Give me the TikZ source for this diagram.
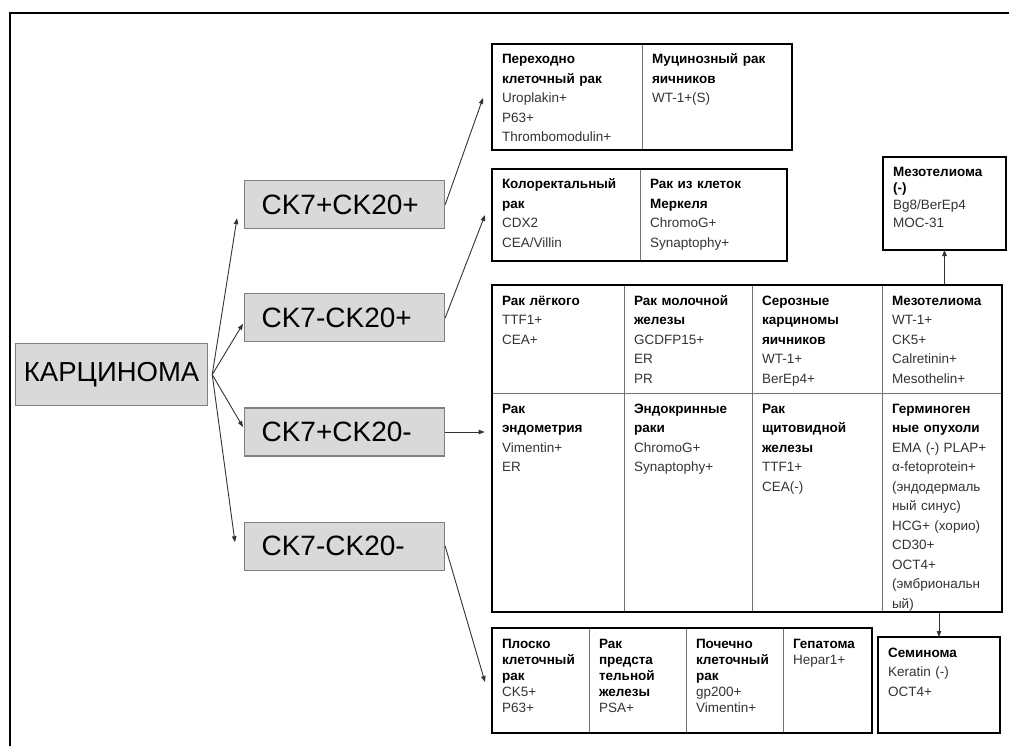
\documentclass[tikz,border=0pt]{standalone}
\usepackage{fontspec}
\setmainfont{Liberation Sans}
\usetikzlibrary{positioning,fit,arrows.meta,calc}

\newcommand{\hd}[1]{{\color{black}\bfseries #1}}

\begin{document}
\begin{tikzpicture}[
  x=1pt, y=-1pt,
  >={Triangle[length=6pt,width=4.5pt]},
  arr/.style={->, line width=0.9pt, black!80},
  rootbox/.style={draw=black!50, fill=black!15, line width=1.2pt, anchor=north west,
                  minimum width=192pt, minimum height=62pt, inner sep=0pt,
                  font=\fontsize{27.5}{30}\selectfont},
  ckbox/.style={draw=black!50, fill=black!15, line width=1.2pt, anchor=north west,
                minimum height=48pt, text width=166pt, inner xsep=17pt, inner ysep=0pt,
                align=left, font=\fontsize{28}{30}\selectfont},
  cell/.style 2 args={draw=black!55, line width=0.8pt, outer sep=0pt, align=left,
                inner xsep=10pt, inner ysep=9pt, text width=#1, text height=11pt,
                text depth=#2, text=black!80, font=\fontsize{13.5}{19.5}\selectfont},
  tight/.style={font=\fontsize{13.5}{16}\selectfont},
  boxline/.style={draw=black, line width=2.8pt},
  tabframe/.style={boxline, inner sep=0pt},
]
\useasboundingbox (0,0) rectangle (1009,746);

%% ---------- page frame ----------
\draw[line width=2.2pt] (10,752) -- (10,13) -- (1015,13);

%% ---------- left column: carcinoma and CK7/CK20 groups ----------
\node[rootbox] (carc) at (15,343) {КАРЦИНОМА};

\node[ckbox] (ck1) at (244,180) {CK7+CK20+};
\node[ckbox, below=64pt of ck1] (ck2) {CK7-CK20+};
\node[ckbox, below=65pt of ck2] (ck3) {CK7+CK20-};
\node[ckbox, below=65pt of ck3] (ck4) {CK7-CK20-};

\coordinate (fan) at ($(carc.east)+(4,0)$);
\draw[arr] (fan) -- ($(ck1.south west)+(-7,-11)$);
\draw[arr] (fan) -- ($(ck2.west)+(-1,6)$);
\draw[arr] (fan) -- ($(ck3.west)+(-1,-5)$);
\draw[arr] (fan) -- ($(ck4.west)+(-9,-4)$);

%% ---------- CK7+CK20+ ----------
\node[cell={130pt}{77pt}, anchor=north west] (t11) at (492,44)
  {\hd{Переходно\\ клеточный рак}\\ Uroplakin+\\ P63+\\ Thrombomodulin+};
\node[cell={130pt}{77pt}, right=0pt of t11] (t12)
  {\hd{Муцинозный рак\\ яичников}\\ WT-1+(S)};
\node[tabframe, fit=(t11)(t12)] (tb1) {};

%% ---------- CK7-CK20+ ----------
\node[cell={128pt}{63pt}, anchor=north west] (t21) at (492,169)
  {\hd{Колоректальный\\ рак}\\ CDX2\\ CEA/Villin};
\node[cell={127pt}{63pt}, right=0pt of t21] (t22)
  {\hd{Рак из клеток\\ Меркеля}\\ ChromoG+\\ Synaptophy+};
\node[tabframe, fit=(t21)(t22)] (tb2) {};

%% ---------- CK7+CK20- (two rows of four) ----------
\node[cell={112pt}{79pt}, anchor=north west] (m11) at (492,285)
  {\hd{Рак лёгкого}\\ TTF1+\\ CEA+};
\node[cell={108pt}{79pt}, right=0pt of m11] (m12)
  {\hd{Рак молочной\\ железы}\\ GCDFP15+\\ ER\\ PR};
\node[cell={110pt}{79pt}, right=0pt of m12] (m13)
  {\hd{Серозные\\ карциномы\\ яичников}\\ WT-1+\\ BerEp4+};
\node[cell={100pt}{79pt}, right=0pt of m13] (m14)
  {\hd{Мезотелиома}\\ WT-1+\\ CK5+\\ Calretinin+\\ Mesothelin+};

\node[cell={112pt}{190pt}, below=0pt of m11] (m21)
  {\hd{Рак\\ эндометрия}\\ Vimentin+\\ ER};
\node[cell={108pt}{190pt}, right=0pt of m21] (m22)
  {\hd{Эндокринные\\ раки}\\ ChromoG+\\ Synaptophy+};
\node[cell={110pt}{190pt}, right=0pt of m22] (m23)
  {\hd{Рак\\ щитовидной\\ железы}\\ TTF1+\\ CEA(-)};
\node[cell={100pt}{190pt}, right=0pt of m23] (m24)
  {\hd{Герминоген\\ ные опухоли}\\ EMA~(-)~PLAP+\\ α-fetoprotein+\\ (эндодермаль\\ ный синус)\\
   HCG+~(хорио)\\ CD30+\\ OCT4+\\ (эмбриональн\\ ый)};
\node[tabframe, fit=(m11)(m24)] (mt) {};

%% ---------- CK7-CK20- ----------
\node[cell={77pt}{76pt}, tight, anchor=north west] (b1) at (492,628)
  {\hd{Плоско\\ клеточный\\ рак}\\ CK5+\\ P63+};
\node[cell={77pt}{76pt}, tight, right=0pt of b1] (b2)
  {\hd{Рак\\ предста\\ тельной\\ железы}\\ PSA+};
\node[cell={77pt}{76pt}, tight, right=0pt of b2] (b3)
  {\hd{Почечно\\ клеточный\\ рак}\\ gp200+\\ Vimentin+};
\node[cell={69pt}{76pt}, tight, right=0pt of b3] (b4)
  {\hd{Гепатома}\\ Hepar1+};
\node[tabframe, fit=(b1)(b4)] (bt) {};

%% ---------- mesothelioma / seminoma side boxes ----------
\node[cell={103pt}{64pt}, tight, boxline, anchor=north west] (meso) at (883,157)
  {\hd{Мезотелиома\\ (-)}\\[1pt] Bg8/BerEp4\\[2pt] MOC-31};
\node[cell={102pt}{67pt}, boxline, anchor=north west] (sem) at (878,637)
  {\hd{Семинома}\\ Keratin (-)\\ OCT4+};

%% right-hand arrows
\draw[arr] (ck1.east) -- ($(t11.west)+(-9,1)$);
\draw[arr] (ck2.east) -- ($(t21.west)+(-7,0)$);
\draw[arr, shorten >=6pt] (ck3.east) -- (ck3.east -| mt.west);
\draw[arr] (ck4.east) -- ($(b1.west)+(-7,1.5)$);
\draw[arr] (meso.south |- mt.north) -- (meso.south);
\draw[arr] (sem.north |- mt.south) -- (sem.north);

\end{tikzpicture}
\end{document}
